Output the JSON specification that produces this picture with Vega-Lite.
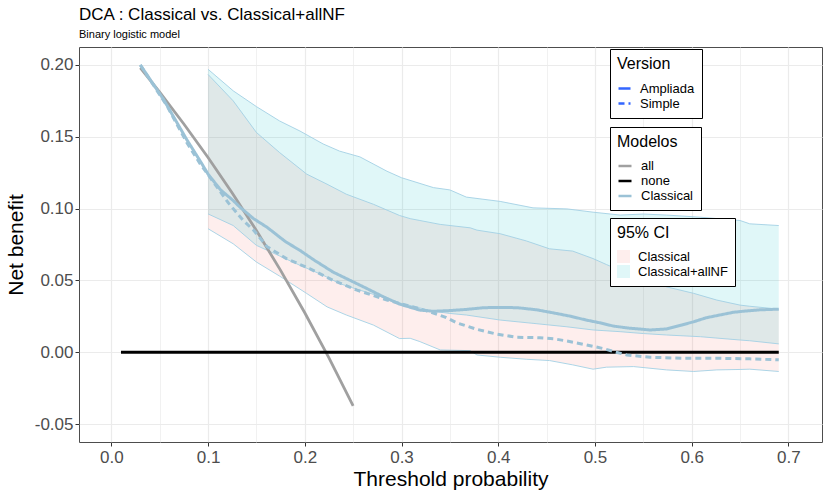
{
  "$schema": "https://vega.github.io/schema/vega-lite/v6.json",
  "width": 743,
  "height": 395,
  "autosize": {"type": "none"},
  "padding": {"left": 79, "top": 47, "right": 1, "bottom": 52},
  "background": "white",
  "title": {
    "text": "DCA : Classical vs. Classical+allNF",
    "subtitle": "Binary logistic model"
  },
  "config": {
    "font": "Liberation Sans",
    "view": {"stroke": "#4d4d4d", "strokeWidth": 1},
    "title": {
      "font": "Liberation Sans", "fontSize": 17, "fontWeight": "normal", "color": "#000000",
      "anchor": "start", "frame": "group", "offset": 6,
      "subtitleFont": "Liberation Sans", "subtitleFontSize": 11, "subtitleColor": "#000000", "subtitlePadding": 5
    },
    "axis": {
      "labelFont": "Liberation Sans", "titleFont": "Liberation Sans",
      "labelColor": "#4d4d4d", "titleColor": "#000000", "titleFontWeight": "normal",
      "tickColor": "#333333", "tickSize": 4, "domain": false,
      "gridColor": "#ebebeb", "labelOverlap": false
    },
    "legend": {
      "labelFont": "Liberation Sans", "titleFont": "Liberation Sans",
      "labelFontSize": 13, "titleFontSize": 16, "titleFontWeight": "normal",
      "labelColor": "#000000", "titleColor": "#000000",
      "strokeColor": "#000000", "fillColor": "#ffffff", "padding": 7,
      "orient": "none", "direction": "vertical"
    }
  },
  "datasets": {
    "curves": [
      {"t": 0.03, "nb": 0.198, "modelo": "all"},
      {"t": 0.05, "nb": 0.1811, "modelo": "all"},
      {"t": 0.075, "nb": 0.1589, "modelo": "all"},
      {"t": 0.1, "nb": 0.1356, "modelo": "all"},
      {"t": 0.125, "nb": 0.1109, "modelo": "all"},
      {"t": 0.15, "nb": 0.0847, "modelo": "all"},
      {"t": 0.175, "nb": 0.057, "modelo": "all"},
      {"t": 0.2, "nb": 0.0275, "modelo": "all"},
      {"t": 0.225, "nb": -0.0039, "modelo": "all"},
      {"t": 0.25, "nb": -0.0373, "modelo": "all"},
      {"t": 0.01, "nb": 0, "modelo": "none"},
      {"t": 0.69, "nb": 0, "modelo": "none"}
    ],
    "models": [
      {"t": 0.03, "nb": 0.2, "modelo": "Classical", "version": "Ampliada"},
      {"t": 0.054, "nb": 0.176, "modelo": "Classical", "version": "Ampliada"},
      {"t": 0.078, "nb": 0.148, "modelo": "Classical", "version": "Ampliada"},
      {"t": 0.092, "nb": 0.133, "modelo": "Classical", "version": "Ampliada"},
      {"t": 0.1, "nb": 0.124, "modelo": "Classical", "version": "Ampliada"},
      {"t": 0.113, "nb": 0.113, "modelo": "Classical", "version": "Ampliada"},
      {"t": 0.126, "nb": 0.1056, "modelo": "Classical", "version": "Ampliada"},
      {"t": 0.133, "nb": 0.101, "modelo": "Classical", "version": "Ampliada"},
      {"t": 0.147, "nb": 0.093, "modelo": "Classical", "version": "Ampliada"},
      {"t": 0.161, "nb": 0.087, "modelo": "Classical", "version": "Ampliada"},
      {"t": 0.18, "nb": 0.077, "modelo": "Classical", "version": "Ampliada"},
      {"t": 0.195, "nb": 0.0709, "modelo": "Classical", "version": "Ampliada"},
      {"t": 0.21, "nb": 0.064, "modelo": "Classical", "version": "Ampliada"},
      {"t": 0.229, "nb": 0.0559, "modelo": "Classical", "version": "Ampliada"},
      {"t": 0.247, "nb": 0.05, "modelo": "Classical", "version": "Ampliada"},
      {"t": 0.264, "nb": 0.0444, "modelo": "Classical", "version": "Ampliada"},
      {"t": 0.28, "nb": 0.039, "modelo": "Classical", "version": "Ampliada"},
      {"t": 0.298, "nb": 0.0335, "modelo": "Classical", "version": "Ampliada"},
      {"t": 0.319, "nb": 0.0293, "modelo": "Classical", "version": "Ampliada"},
      {"t": 0.333, "nb": 0.0285, "modelo": "Classical", "version": "Ampliada"},
      {"t": 0.35, "nb": 0.029, "modelo": "Classical", "version": "Ampliada"},
      {"t": 0.367, "nb": 0.0298, "modelo": "Classical", "version": "Ampliada"},
      {"t": 0.385, "nb": 0.031, "modelo": "Classical", "version": "Ampliada"},
      {"t": 0.402, "nb": 0.0312, "modelo": "Classical", "version": "Ampliada"},
      {"t": 0.42, "nb": 0.031, "modelo": "Classical", "version": "Ampliada"},
      {"t": 0.44, "nb": 0.0295, "modelo": "Classical", "version": "Ampliada"},
      {"t": 0.46, "nb": 0.027, "modelo": "Classical", "version": "Ampliada"},
      {"t": 0.475, "nb": 0.025, "modelo": "Classical", "version": "Ampliada"},
      {"t": 0.491, "nb": 0.0224, "modelo": "Classical", "version": "Ampliada"},
      {"t": 0.505, "nb": 0.0205, "modelo": "Classical", "version": "Ampliada"},
      {"t": 0.519, "nb": 0.0182, "modelo": "Classical", "version": "Ampliada"},
      {"t": 0.535, "nb": 0.0168, "modelo": "Classical", "version": "Ampliada"},
      {"t": 0.557, "nb": 0.0155, "modelo": "Classical", "version": "Ampliada"},
      {"t": 0.574, "nb": 0.0162, "modelo": "Classical", "version": "Ampliada"},
      {"t": 0.59, "nb": 0.019, "modelo": "Classical", "version": "Ampliada"},
      {"t": 0.602, "nb": 0.0212, "modelo": "Classical", "version": "Ampliada"},
      {"t": 0.615, "nb": 0.024, "modelo": "Classical", "version": "Ampliada"},
      {"t": 0.629, "nb": 0.0259, "modelo": "Classical", "version": "Ampliada"},
      {"t": 0.643, "nb": 0.0278, "modelo": "Classical", "version": "Ampliada"},
      {"t": 0.653, "nb": 0.0285, "modelo": "Classical", "version": "Ampliada"},
      {"t": 0.67, "nb": 0.0295, "modelo": "Classical", "version": "Ampliada"},
      {"t": 0.69, "nb": 0.03, "modelo": "Classical", "version": "Ampliada"},
      {"t": 0.03, "nb": 0.2, "modelo": "Classical", "version": "Simple"},
      {"t": 0.058, "nb": 0.171, "modelo": "Classical", "version": "Simple"},
      {"t": 0.078, "nb": 0.146, "modelo": "Classical", "version": "Simple"},
      {"t": 0.092, "nb": 0.131, "modelo": "Classical", "version": "Simple"},
      {"t": 0.105, "nb": 0.119, "modelo": "Classical", "version": "Simple"},
      {"t": 0.121, "nb": 0.104, "modelo": "Classical", "version": "Simple"},
      {"t": 0.136, "nb": 0.092, "modelo": "Classical", "version": "Simple"},
      {"t": 0.147, "nb": 0.085, "modelo": "Classical", "version": "Simple"},
      {"t": 0.161, "nb": 0.0735, "modelo": "Classical", "version": "Simple"},
      {"t": 0.181, "nb": 0.0652, "modelo": "Classical", "version": "Simple"},
      {"t": 0.205, "nb": 0.0582, "modelo": "Classical", "version": "Simple"},
      {"t": 0.229, "nb": 0.0501, "modelo": "Classical", "version": "Simple"},
      {"t": 0.254, "nb": 0.0432, "modelo": "Classical", "version": "Simple"},
      {"t": 0.285, "nb": 0.0363, "modelo": "Classical", "version": "Simple"},
      {"t": 0.312, "nb": 0.0316, "modelo": "Classical", "version": "Simple"},
      {"t": 0.33, "nb": 0.028, "modelo": "Classical", "version": "Simple"},
      {"t": 0.345, "nb": 0.0245, "modelo": "Classical", "version": "Simple"},
      {"t": 0.357, "nb": 0.0205, "modelo": "Classical", "version": "Simple"},
      {"t": 0.378, "nb": 0.0159, "modelo": "Classical", "version": "Simple"},
      {"t": 0.398, "nb": 0.0127, "modelo": "Classical", "version": "Simple"},
      {"t": 0.419, "nb": 0.0104, "modelo": "Classical", "version": "Simple"},
      {"t": 0.443, "nb": 0.0101, "modelo": "Classical", "version": "Simple"},
      {"t": 0.457, "nb": 0.0094, "modelo": "Classical", "version": "Simple"},
      {"t": 0.471, "nb": 0.0078, "modelo": "Classical", "version": "Simple"},
      {"t": 0.491, "nb": 0.0051, "modelo": "Classical", "version": "Simple"},
      {"t": 0.509, "nb": 0.0025, "modelo": "Classical", "version": "Simple"},
      {"t": 0.522, "nb": 0.0, "modelo": "Classical", "version": "Simple"},
      {"t": 0.533, "nb": -0.0019, "modelo": "Classical", "version": "Simple"},
      {"t": 0.557, "nb": -0.0035, "modelo": "Classical", "version": "Simple"},
      {"t": 0.591, "nb": -0.0042, "modelo": "Classical", "version": "Simple"},
      {"t": 0.626, "nb": -0.0042, "modelo": "Classical", "version": "Simple"},
      {"t": 0.66, "nb": -0.0046, "modelo": "Classical", "version": "Simple"},
      {"t": 0.69, "nb": -0.0053, "modelo": "Classical", "version": "Simple"}
    ],
    "ci": [
      {"t": 0.1, "lo": 0.086, "hi": 0.1934, "ci": "Classical"},
      {"t": 0.126, "lo": 0.0755, "hi": 0.175, "ci": "Classical"},
      {"t": 0.15, "lo": 0.0628, "hi": 0.153, "ci": "Classical"},
      {"t": 0.174, "lo": 0.053, "hi": 0.139, "ci": "Classical"},
      {"t": 0.202, "lo": 0.0409, "hi": 0.124, "ci": "Classical"},
      {"t": 0.223, "lo": 0.0316, "hi": 0.117, "ci": "Classical"},
      {"t": 0.243, "lo": 0.0259, "hi": 0.11, "ci": "Classical"},
      {"t": 0.271, "lo": 0.0189, "hi": 0.103, "ci": "Classical"},
      {"t": 0.298, "lo": 0.0095, "hi": 0.0952, "ci": "Classical"},
      {"t": 0.309, "lo": 0.0097, "hi": 0.093, "ci": "Classical"},
      {"t": 0.319, "lo": 0.0074, "hi": 0.0917, "ci": "Classical"},
      {"t": 0.34, "lo": 0.0016, "hi": 0.089, "ci": "Classical"},
      {"t": 0.371, "lo": 0.0011, "hi": 0.0866, "ci": "Classical"},
      {"t": 0.378, "lo": -0.0019, "hi": 0.085, "ci": "Classical"},
      {"t": 0.402, "lo": -0.0035, "hi": 0.0825, "ci": "Classical"},
      {"t": 0.429, "lo": -0.0049, "hi": 0.0775, "ci": "Classical"},
      {"t": 0.453, "lo": -0.0058, "hi": 0.072, "ci": "Classical"},
      {"t": 0.477, "lo": -0.0088, "hi": 0.0704, "ci": "Classical"},
      {"t": 0.498, "lo": -0.0118, "hi": 0.0652, "ci": "Classical"},
      {"t": 0.512, "lo": -0.0104, "hi": 0.061, "ci": "Classical"},
      {"t": 0.54, "lo": -0.01, "hi": 0.053, "ci": "Classical"},
      {"t": 0.574, "lo": -0.0123, "hi": 0.0455, "ci": "Classical"},
      {"t": 0.602, "lo": -0.0134, "hi": 0.041, "ci": "Classical"},
      {"t": 0.626, "lo": -0.0123, "hi": 0.0363, "ci": "Classical"},
      {"t": 0.65, "lo": -0.012, "hi": 0.0328, "ci": "Classical"},
      {"t": 0.66, "lo": -0.0118, "hi": 0.032, "ci": "Classical"},
      {"t": 0.69, "lo": -0.0134, "hi": 0.03, "ci": "Classical"},
      {"t": 0.1, "lo": 0.0963, "hi": 0.197, "ci": "Classical+allNF"},
      {"t": 0.126, "lo": 0.0882, "hi": 0.182, "ci": "Classical+allNF"},
      {"t": 0.15, "lo": 0.0744, "hi": 0.171, "ci": "Classical+allNF"},
      {"t": 0.174, "lo": 0.067, "hi": 0.161, "ci": "Classical+allNF"},
      {"t": 0.195, "lo": 0.0605, "hi": 0.154, "ci": "Classical+allNF"},
      {"t": 0.219, "lo": 0.0536, "hi": 0.145, "ci": "Classical+allNF"},
      {"t": 0.236, "lo": 0.0478, "hi": 0.14, "ci": "Classical+allNF"},
      {"t": 0.257, "lo": 0.0432, "hi": 0.136, "ci": "Classical+allNF"},
      {"t": 0.285, "lo": 0.0374, "hi": 0.126, "ci": "Classical+allNF"},
      {"t": 0.3, "lo": 0.034, "hi": 0.1215, "ci": "Classical+allNF"},
      {"t": 0.333, "lo": 0.0285, "hi": 0.1146, "ci": "Classical+allNF"},
      {"t": 0.35, "lo": 0.027, "hi": 0.113, "ci": "Classical+allNF"},
      {"t": 0.367, "lo": 0.0259, "hi": 0.108, "ci": "Classical+allNF"},
      {"t": 0.402, "lo": 0.0224, "hi": 0.105, "ci": "Classical+allNF"},
      {"t": 0.436, "lo": 0.0201, "hi": 0.1005, "ci": "Classical+allNF"},
      {"t": 0.471, "lo": 0.0177, "hi": 0.0998, "ci": "Classical+allNF"},
      {"t": 0.498, "lo": 0.0155, "hi": 0.0975, "ci": "Classical+allNF"},
      {"t": 0.526, "lo": 0.0143, "hi": 0.0955, "ci": "Classical+allNF"},
      {"t": 0.55, "lo": 0.013, "hi": 0.0962, "ci": "Classical+allNF"},
      {"t": 0.574, "lo": 0.012, "hi": 0.0955, "ci": "Classical+allNF"},
      {"t": 0.609, "lo": 0.0108, "hi": 0.094, "ci": "Classical+allNF"},
      {"t": 0.65, "lo": 0.0085, "hi": 0.0917, "ci": "Classical+allNF"},
      {"t": 0.66, "lo": 0.008, "hi": 0.0894, "ci": "Classical+allNF"},
      {"t": 0.69, "lo": 0.0058, "hi": 0.0882, "ci": "Classical+allNF"}
    ]
  },
  "encoding": {
    "x": {
      "field": "t", "type": "quantitative",
      "scale": {"domain": [-0.0334, 0.7347], "nice": false, "zero": false},
      "axis": {
        "title": "Threshold probability", "titleFontSize": 21, "labelFontSize": 17,
        "labelPadding": 3, "titlePadding": 3, "labelFlush": false,
        "values": [0, 0.05, 0.1, 0.15, 0.2, 0.25, 0.3, 0.35, 0.4, 0.45, 0.5, 0.55, 0.6, 0.65, 0.7],
        "labelExpr": "abs(datum.value * 10 - round(datum.value * 10)) < 0.001 ? format(datum.value, '.1f') : ''",
        "tickOpacity": {"condition": {"test": "abs(datum.value * 10 - round(datum.value * 10)) < 0.001", "value": 1}, "value": 0},
        "gridWidth": {"condition": {"test": "abs(datum.value * 10 - round(datum.value * 10)) < 0.001", "value": 1.2}, "value": 0.7}
      }
    }
  },
  "layer": [
    {
      "data": {"name": "ci"},
      "mark": {"type": "area", "fillOpacity": 0.12, "strokeWidth": 0},
      "encoding": {
        "y": {
          "field": "lo", "type": "quantitative",
          "scale": {"domain": [-0.0625, 0.2125], "nice": false, "zero": false},
          "axis": {
            "title": "Net benefit", "titleFontSize": 21, "labelFontSize": 17,
            "labelPadding": 2, "titlePadding": 8,
            "values": [-0.05, -0.025, 0, 0.025, 0.05, 0.075, 0.1, 0.125, 0.15, 0.175, 0.2],
            "labelExpr": "abs(datum.value * 20 - round(datum.value * 20)) < 0.001 ? replace(format(datum.value, '.2f'), '\u2212', '-') : ''",
            "tickOpacity": {"condition": {"test": "abs(datum.value * 20 - round(datum.value * 20)) < 0.001", "value": 1}, "value": 0},
            "gridWidth": {"condition": {"test": "abs(datum.value * 20 - round(datum.value * 20)) < 0.001", "value": 1.2}, "value": 0.7}
          }
        },
        "y2": {"field": "hi"},
        "fill": {
          "field": "ci", "type": "nominal",
          "scale": {"domain": ["Classical", "Classical+allNF"], "range": ["#F8766D", "#00BFC4"]},
          "legend": {
            "title": "95% CI", "legendX": 531, "legendY": 171,
            "symbolType": "square", "symbolSize": 169, "symbolOpacity": 0.12,
            "symbolStrokeWidth": 0, "labelOffset": 8, "rowPadding": 1, "titlePadding": 9
          }
        }
      }
    },
    {
      "data": {"name": "ci"},
      "mark": {"type": "line", "color": "#a3d0e4", "strokeWidth": 0.9},
      "encoding": {
        "y": {"field": "lo", "type": "quantitative"},
        "detail": {"field": "ci"}
      }
    },
    {
      "data": {"name": "ci"},
      "mark": {"type": "line", "color": "#a3d0e4", "strokeWidth": 0.9},
      "encoding": {
        "y": {"field": "hi", "type": "quantitative"},
        "detail": {"field": "ci"}
      }
    },
    {
      "data": {"name": "curves"},
      "mark": {"type": "line", "strokeWidth": 2.8},
      "encoding": {
        "y": {"field": "nb", "type": "quantitative"},
        "color": {
          "field": "modelo", "type": "nominal",
          "scale": {"domain": ["all", "none", "Classical"], "range": ["#a0a0a0", "#000000", "#9bc2d6"]},
          "legend": {
            "title": "Modelos", "legendX": 531, "legendY": 80,
            "symbolType": "stroke", "symbolSize": 169, "symbolStrokeWidth": 2.5,
            "labelOffset": 8, "rowPadding": 0, "titlePadding": 8
          }
        }
      }
    },
    {
      "data": {"name": "models"},
      "mark": {"type": "line", "strokeWidth": 3},
      "encoding": {
        "y": {"field": "nb", "type": "quantitative"},
        "color": {"field": "modelo", "type": "nominal"},
        "strokeDash": {
          "field": "version", "type": "nominal",
          "scale": {"domain": ["Ampliada", "Simple"], "range": [[1, 0], [6, 4]]},
          "legend": {
            "title": "Version", "legendX": 531, "legendY": 2,
            "symbolType": "stroke", "symbolSize": 144, "symbolStrokeWidth": 2.5,
            "symbolStrokeColor": "#3366FF",
            "labelOffset": 8, "rowPadding": 0, "titlePadding": 9
          }
        }
      }
    }
  ]
}
